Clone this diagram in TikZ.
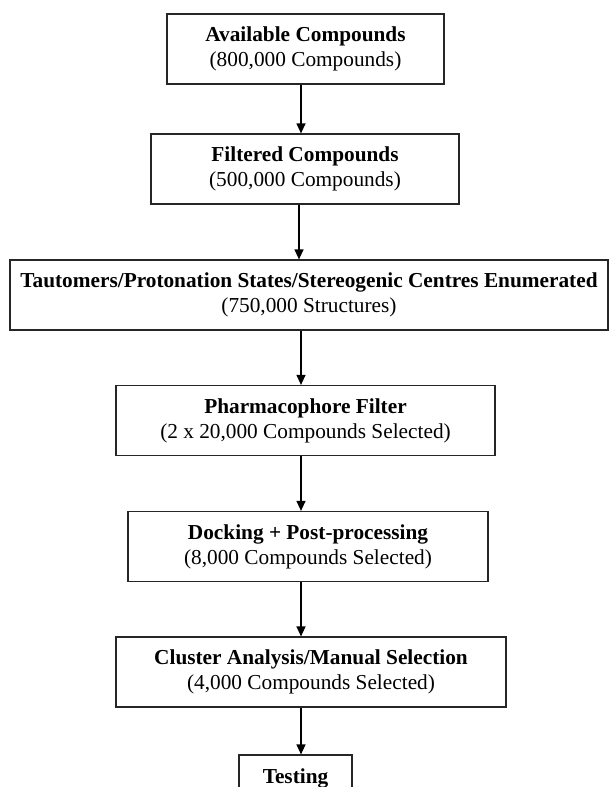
\documentclass[tikz,border=0pt]{standalone}
\usepackage{fontspec}
\setmainfont{Liberation Serif}
\usepackage{tikz}
\usetikzlibrary{arrows.meta, positioning}
\tikzstyle{stage} = [rectangle, minimum height=70pt, inner sep=0pt, align=center, text centered, draw=black!85, line width=1.2pt, fill=white, font=\fontsize{21.3}{25}\selectfont]
\tikzstyle{arrow} = [-{Triangle[length=10pt, width=9pt]}, line width=1.2pt]

\begin{document}
\begin{tikzpicture}[x=1pt, y=-1pt]

    \useasboundingbox (0, 0) rectangle (609, 787);
    \clip (0, 0) rectangle (609, 787);

    \node (avail) [stage, minimum width=277pt] at (305.5, 49) {\textbf{Available Compounds}\\(800,000 Compounds)};
    \node (filt) [stage, minimum width=308pt] at (305, 169) {\textbf{Filtered Compounds}\\(500,000 Compounds)};
    \node (enum) [stage, minimum width=598pt] at (309, 295) {\textbf{Tautomers/Protonation States/Stereogenic Centres Enumerated}\\(750,000 Structures)};
    \node (pharm) [stage, minimum width=379pt] at (305.5, 420.5) {\textbf{Pharmacophore Filter}\\(2 x 20,000 Compounds Selected)};
    \node (dock) [stage, minimum width=360pt] at (308, 546.5) {\textbf{Docking + Post-processing}\\(8,000 Compounds Selected)};
    \node (clust) [stage, minimum width=390pt] at (311, 672) {\textbf{Cluster Analysis/Manual Selection}\\(4,000 Compounds Selected)};
    \node (test) [stage, minimum width=113pt, minimum height=46pt] at (295.5, 778) {\textbf{Testing}};

    \coordinate (axis) at (301, 0);

    \draw [arrow] (avail.south -| axis) -- (filt.north -| axis);
    \draw [arrow] ([xshift=-2pt]filt.south -| axis) -- ([xshift=-2pt]enum.north -| axis);
    \draw [arrow] (enum.south -| axis) -- (pharm.north -| axis);
    \draw [arrow] (pharm.south -| axis) -- (dock.north -| axis);
    \draw [arrow] (dock.south -| axis) -- (clust.north -| axis);
    \draw [arrow] (clust.south -| axis) -- (test.north -| axis);

\end{tikzpicture}
\end{document}
